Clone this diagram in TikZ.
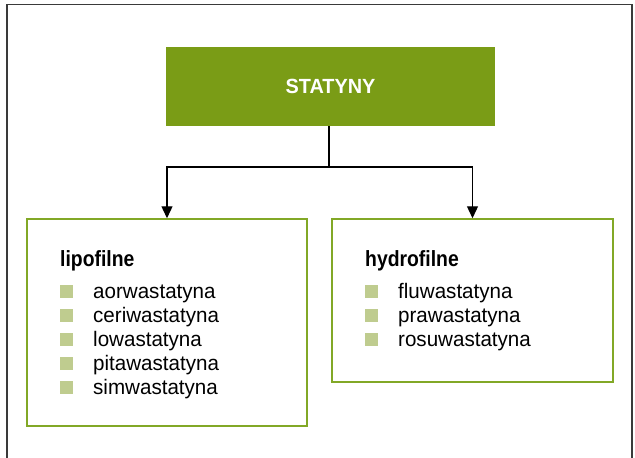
\documentclass[tikz,border=0pt]{standalone}
\usepackage{fontspec}
\setmainfont{Liberation Sans}
\newfontfamily\itemfont[FakeStretch=0.98]{Liberation Sans}
\newfontfamily\headfont[FakeStretch=0.88]{Liberation Sans Bold}
\newfontfamily\titlefont[FakeStretch=0.97]{Liberation Sans Bold}
\usetikzlibrary{arrows.meta}
\definecolor{leaf}{HTML}{7A9C16}
\definecolor{leafline}{HTML}{82A826}
\definecolor{bullet}{HTML}{BFCC8F}
\definecolor{frameline}{HTML}{3A3A3A}
\tikzset{
  titlebox/.style={fill=leaf, draw=none, minimum width=329pt, minimum height=79pt,
    inner sep=0pt, text=white, font=\titlefont\fontsize{20.5}{24}\selectfont},
  groupbox/.style={draw=leafline, line width=1.5pt, fill=white, inner sep=0pt},
  grouphead/.style={anchor=base west, inner sep=0pt, font=\headfont\fontsize{22}{24}\selectfont},
  itemtext/.style={anchor=base west, inner sep=0pt, font=\itemfont\fontsize{21}{24}\selectfont},
  bulletsq/.style={anchor=south west, fill=bullet, draw=none, minimum width=13pt,
    minimum height=12.5pt, inner sep=0pt},
  arr/.style={line width=1.3pt, -{Triangle[length=12pt,width=11pt]}},
  link/.style={line width=1.3pt},
  frame/.style={draw=frameline, line width=1.3pt}
}
\begin{document}
\begin{tikzpicture}[x=1pt,y=-1pt]
\useasboundingbox (0,0) rectangle (635,458);
% outer frame, open at the bottom
\draw[frame] (7,460) -- (7,4.6) -- (632,4.6) -- (632,460);

% title box
\node[titlebox] (top) at (330.5,86.5) {STATYNY};

% group boxes
\node[groupbox, minimum width=280pt, minimum height=207pt] (lbox) at (167,322.5) {};
\node[groupbox, minimum width=281pt, minimum height=163pt] (rbox) at (472.5,300.5) {};

% connectors
\coordinate (j) at (329,167);
\draw[link] (329,126) -- (j);
\draw[arr] (j) -| (lbox.north);
\draw[arr] (j) -| (rbox.north);

% left group
\node[grouphead] (lhead) at (60,266) {lipofilne};
\foreach \t/\n [count=\i] in {aorwastatyna/l1, ceriwastatyna/l2, lowastatyna/l3,
    pitawastatyna/l4, simwastatyna/l5} {
  \node[bulletsq] (\n b) at (60,274+24*\i) {};
  \node[itemtext] (\n) at (93,274+24*\i) {\t};
}

% right group
\node[grouphead] (rhead) at (365,266) {hydrofilne};
\foreach \t/\n [count=\i] in {fluwastatyna/r1, prawastatyna/r2, rosuwastatyna/r3} {
  \node[bulletsq] (\n b) at (365,274+24*\i) {};
  \node[itemtext] (\n) at (398,274+24*\i) {\t};
}
\end{tikzpicture}
\end{document}
